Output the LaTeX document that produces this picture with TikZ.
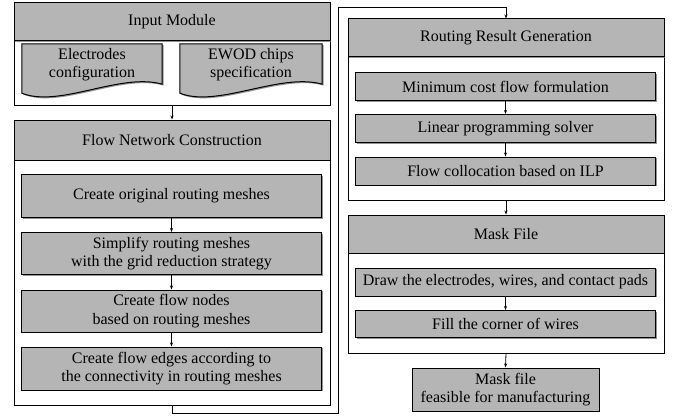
\documentclass[tikz,border=0pt]{standalone}
\usepackage{fontspec}
\setmainfont{Liberation Serif}
\usetikzlibrary{arrows.meta, positioning, shadows}
\definecolor{BoxGray}{RGB}{181,181,181}
\definecolor{ShadeGray}{RGB}{120,120,120}

\begin{document}
\begin{tikzpicture}[
    x=1pt, y=-1pt,
    font=\fontsize{16}{18.5}\selectfont,
    shade/.style={drop shadow={shadow xshift=1.4pt, shadow yshift=-1.4pt,
        fill=ShadeGray, opacity=0.8}},
    header/.style={draw, line width=1pt, fill=BoxGray, shade,
        minimum width=316pt, minimum height=38pt, inner sep=0pt},
    frame/.style={draw, line width=1pt, fill=white, shade,
        minimum width=316pt, inner sep=0pt},
    stepbox/.style={draw, line width=1pt, fill=BoxGray, shade, align=center,
        minimum width=300pt, inner sep=0pt},
    docshape/.style={draw, line width=1pt, fill=BoxGray, shade},
    link/.style={-{Stealth[length=4pt, width=3pt]}, line width=0.8pt},
]
\useasboundingbox (0,0) rectangle (677,420);

% module d'entree
\node[frame, minimum height=102pt] (inbox) at (172,54) {};
\node[header] (inhead) at (172,21.5) {Input Module};
\node[minimum width=140pt, minimum height=49pt, inner sep=0pt, align=center] (elec) at (92,68.5) {};
\node[minimum width=142pt, minimum height=49pt, inner sep=0pt, align=center] (ewod) at (251,68.5) {};
\path[docshape] (elec.north west) -- (elec.north east) -- ([yshift=9pt]elec.south east)
    .. controls ([xshift=-42pt, yshift=21pt]elec.south east)
    and ([xshift=38pt, yshift=-15pt]elec.south west) .. (elec.south west) -- cycle;
\path[docshape] (ewod.north west) -- (ewod.north east) -- ([yshift=9pt]ewod.south east)
    .. controls ([xshift=-42pt, yshift=21pt]ewod.south east)
    and ([xshift=38pt, yshift=-15pt]ewod.south west) .. (ewod.south west) -- cycle;
\node[align=center] at ([yshift=4pt]elec.center) {Electrodes\\configuration};
\node[align=center] at ([yshift=4pt]ewod.center) {EWOD chips\\specification};

% construction du reseau de flot
\node[frame, minimum height=285pt] (flowbox) at (172,262.5) {};
\node[header, minimum height=40pt] (flowhead) at (172,140) {Flow Network Construction};
\node[stepbox, minimum height=43pt] (mesh) at (171.5,196) {Create original routing meshes};
\node[stepbox, minimum height=42pt] (simp) at (171.5,253.5)
    {Simplify routing meshes\\with the grid reduction strategy};
\node[stepbox, minimum height=42pt] (fnode) at (171.5,311)
    {Create flow nodes\\based on routing meshes};
\node[stepbox, minimum height=43pt] (fedge) at (171.5,368.5)
    {Create flow edges according to\\the connectivity in routing meshes};

% generation du routage
\node[frame, minimum height=181pt] (rrgbox) at (506,109.5) {};
\node[header] (rrghead) at (506,38) {Routing Result Generation};
\node[stepbox, minimum height=28pt] (mcf) at (505.5,86.5) {Minimum cost flow formulation};
\node[stepbox, minimum height=28pt] (lps) at (505.5,128.5) {Linear programming solver};
\node[stepbox, minimum height=28pt] (ilp) at (505.5,171) {Flow collocation based on ILP};

% fichier masque
\node[frame, minimum height=138pt] (maskbox) at (506,284) {};
\node[header] (maskhead) at (506,234) {Mask File};
\node[stepbox, minimum height=28pt] (draw) at (505.5,282) {Draw the electrodes, wires, and contact pads};
\node[stepbox, minimum height=27pt] (fill) at (505.5,324) {Fill the corner of wires};
\node[stepbox, minimum width=187pt, minimum height=43pt] (out) at (505.5,389.5)
    {Mask file\\feasible for manufacturing};

% liaisons
\coordinate (turn) at (338,7);
\draw[link] (inbox.south) -- (flowhead.north);
\draw[link] (mesh) -- (simp);
\draw[link] (simp) -- (fnode);
\draw[link] (fnode) -- (fedge);
\draw[link] (flowbox.south) -- ++(0,8) -| (turn) -| (rrghead.north);
\draw[link] (mcf) -- (lps);
\draw[link] (lps) -- (ilp);
\draw[link] (rrgbox.south) -- (maskhead.north);
\draw[link] (draw) -- (fill);
\draw[link] (maskbox.south) -- (out.north);

\end{tikzpicture}
\end{document}
